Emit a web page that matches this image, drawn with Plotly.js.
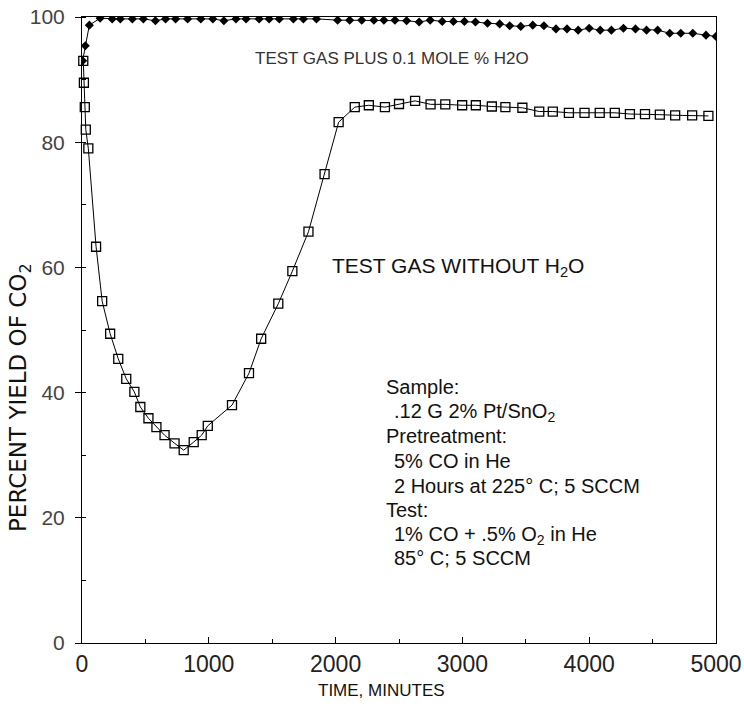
<!DOCTYPE html>
<html>
<head>
<meta charset="utf-8">
<script src="https://cdn.plot.ly/plotly-3.0.1.min.js"></script>
<style>html,body{margin:0;padding:0;background:#fff;}#chart{width:744px;height:709px;}</style>
</head>
<body>
<div id="chart"></div>
<script>
// Test gas without H2O (open squares)
const dryTime = [10, 15, 22, 30, 50, 111, 159, 222, 286, 349, 413, 460, 524, 587, 651, 730, 802, 881, 944, 992, 1183, 1317, 1413, 1548, 1659, 1786, 1913, 2024, 2151, 2262, 2389, 2500, 2627, 2749, 2865, 2998, 3106, 3232, 3339, 3473, 3606, 3713, 3840, 3963, 4083, 4202, 4321, 4440, 4557, 4678, 4812, 4940];
const dryYield = [93, 89.5, 85.6, 82, 79, 63.3, 54.6, 49.4, 45.4, 42.2, 40.1, 37.7, 35.9, 34.5, 33.2, 31.9, 30.8, 32.1, 33.2, 34.7, 38.0, 43.1, 48.6, 54.2, 59.4, 65.7, 74.9, 83.2, 85.6, 85.9, 85.6, 86.1, 86.6, 86.05, 86.05, 85.9, 85.9, 85.7, 85.6, 85.5, 84.9, 84.9, 84.7, 84.7, 84.7, 84.7, 84.5, 84.5, 84.4, 84.3, 84.3, 84.2];

// Test gas plus 0.1 mole % H2O (filled diamonds)
const wetTime = [5, 26, 58, 143, 238, 302, 397, 484, 579, 659, 738, 833, 937, 1032, 1119, 1214, 1294, 1397, 1476, 1556, 1667, 1746, 1849, 2016, 2111, 2206, 2302, 2381, 2468, 2560, 2659, 2746, 2841, 2929, 3016, 3103, 3198, 3294, 3373, 3460, 3555, 3643, 3738, 3825, 3913, 4000, 4087, 4175, 4270, 4365, 4452, 4540, 4635, 4722, 4817, 4921, 5000];
const wetYield = [93, 95.4, 98.7, 99.8, 99.7, 99.7, 99.7, 99.7, 99.4, 99.7, 99.7, 99.7, 99.7, 99.7, 99.4, 99.7, 99.7, 99.7, 99.7, 99.7, 99.7, 99.7, 99.7, 99.5, 99.5, 99.5, 99.5, 99.5, 99.5, 99.4, 99.2, 99.5, 99.3, 99.3, 99.3, 99.2, 99.0, 98.9, 98.6, 98.5, 98.7, 98.6, 98.1, 98.1, 97.9, 98.2, 97.9, 97.9, 98.2, 98.1, 97.9, 97.9, 97.4, 97.4, 97.4, 97.1, 96.9];

const xTickVals = [0, 1000, 2000, 3000, 4000, 5000];
const yTickVals = [0, 20, 40, 60, 80, 100];

const M = {l: 82, r: 28, t: 17, b: 66};
const W = 744, H = 709;
const PW = W - M.l - M.r, PH = H - M.t - M.b;
const px = x => (x - M.l) / PW;
const py = y => (H - M.b - y) / PH;

const traces = [
  {
    x: wetTime, y: wetYield, type: 'scatter', mode: 'lines+markers',
    name: 'Test gas plus 0.1 mole % H2O',
    line: {color: '#000', width: 1},
    marker: {symbol: 'diamond', size: 7, color: '#000'},
    cliponaxis: true
  },
  {
    x: dryTime, y: dryYield, type: 'scatter', mode: 'lines+markers',
    name: 'Test gas without H2O',
    line: {color: '#000', width: 1},
    marker: {symbol: 'square-open', size: 9, color: '#000', line: {width: 1.3}},
    cliponaxis: false
  }
];

const FONT = 'Liberation Sans, Arial, sans-serif';
const txt = (text, x, y, size, anchor, extra) => Object.assign({
  text: text, x: px(x), y: py(y), xref: 'paper', yref: 'paper',
  xanchor: anchor || 'left', yanchor: 'middle', showarrow: false,
  font: {family: FONT, size: size, color: '#111'}
}, extra || {});

const layout = {
  width: W, height: H,
  margin: M,
  paper_bgcolor: '#fff', plot_bgcolor: '#fff',
  showlegend: false,
  font: {family: FONT, color: '#111'},
  xaxis: {
    range: [0, 5000], tickvals: xTickVals, ticktext: xTickVals.map(String),
    ticks: 'inside', ticklen: 6, tickcolor: '#000',
    minor: {dtick: 500, ticks: 'inside', ticklen: 4, tickcolor: '#000'},
    showgrid: false, zeroline: false,
    showline: true, linecolor: '#000', linewidth: 1, mirror: true,
    tickfont: {size: 23, color: '#222'},
    ticklabeloverflow: 'allow',
    automargin: false
  },
  yaxis: {
    range: [0, 100], tickvals: yTickVals, ticktext: yTickVals.map(String),
    ticks: 'outside', ticklen: 6, tickcolor: '#000',
    minor: {dtick: 10, ticks: 'inside', ticklen: 4, tickcolor: '#000'},
    showgrid: false, zeroline: false,
    showline: true, linecolor: '#000', linewidth: 1, mirror: true,
    tickfont: {size: 21, color: '#444'},
    ticklabelstandoff: 6,
    automargin: false
  },
  annotations: [
    // axis titles
    txt('TIME, MINUTES', 381, 690, 17, 'center'),
    txt('PERCENT YIELD OF CO<sub>2</sub>', 20, 398, 23, 'center',
        {textangle: -90, xanchor: 'center', font: {family: 'DejaVu Sans, Liberation Sans, sans-serif', size: 23, color: '#111'}}),
    // curve labels
    txt('TEST GAS PLUS 0.1 MOLE % H2O', 392, 58, 17, 'center', {font: {family: FONT, size: 17, color: '#333'}}),
    txt('TEST GAS WITHOUT H<sub>2</sub>O', 330, 267, 21),
    // conditions block
    txt('Sample:', 384, 387, 20),
    txt('.12 G 2% Pt/SnO<sub>2</sub>', 392, 412, 20),
    txt('Pretreatment:', 384, 436, 20),
    txt('5% CO in He', 392, 461, 20),
    txt('2 Hours at 225° C; 5 SCCM', 392, 486, 20),
    txt('Test:', 384, 510, 20),
    txt('1% CO + .5% O<sub>2</sub> in He', 392, 535, 20),
    txt('85° C; 5 SCCM', 392, 558, 20)
  ]
};

Plotly.newPlot('chart', traces, layout, {staticPlot: true, displayModeBar: false});
</script>
</body>
</html>
